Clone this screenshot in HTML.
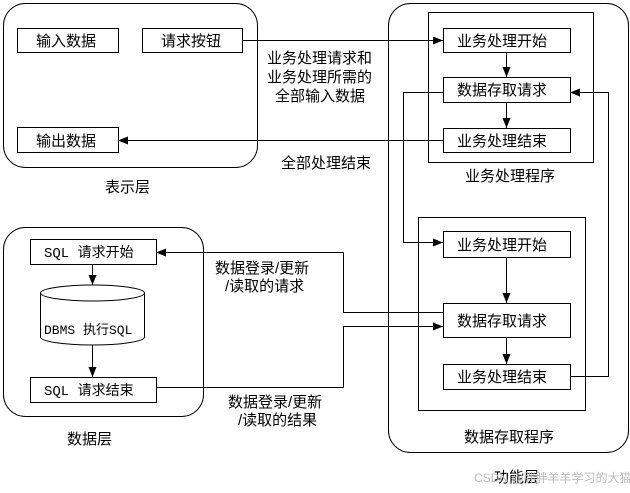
<!DOCTYPE html>
<html><head><meta charset="utf-8"><style>
html,body{margin:0;padding:0;background:#fff;}
svg text{font-family:"Liberation Sans","WenQuanYi Zen Hei","Noto Sans CJK SC",sans-serif;font-size:15px;fill:#000;}
.m{font-family:"Liberation Mono","WenQuanYi Zen Hei","Noto Sans CJK SC",monospace;}
</style></head><body>
<svg width="630" height="488" viewBox="0 0 630 488" xmlns="http://www.w3.org/2000/svg">
<defs>
<marker id="a" markerWidth="10" markerHeight="8" refX="10" refY="4" orient="auto" markerUnits="userSpaceOnUse">
<path d="M0,0 L10,4 L0,8 Z" fill="#000"/></marker>
</defs>
<g fill="none" stroke="#000" stroke-width="1">
<!-- presentation layer -->
<rect x="3.5" y="3.5" width="254" height="164" rx="22"/>
<rect x="17.5" y="28.5" width="101" height="24"/>
<rect x="142.5" y="28.5" width="100" height="24"/>
<rect x="17.5" y="127.5" width="101" height="25"/>
<!-- function layer -->
<rect x="388.5" y="3.5" width="240" height="449" rx="22"/>
<rect x="428.5" y="12.5" width="165" height="150"/>
<rect x="443.5" y="28.5" width="127" height="24"/>
<rect x="443.5" y="77.5" width="127" height="25"/>
<rect x="443.5" y="128.5" width="127" height="24"/>
<rect x="418.5" y="217.5" width="167" height="193"/>
<rect x="443.5" y="231.5" width="127" height="26"/>
<rect x="443.5" y="303.5" width="127" height="34"/>
<rect x="443.5" y="364.5" width="127" height="25"/>
<!-- data layer -->
<rect x="3.5" y="227.5" width="200" height="189" rx="22"/>
<rect x="30.5" y="239.5" width="126" height="25"/>
<rect x="30.5" y="377.5" width="126" height="25"/>
<path d="M40.5,293 L40.5,337 A52,8 0 0 0 144.5,337 L144.5,293"/>
<ellipse cx="92.5" cy="293" rx="52" ry="8"/>
<!-- connectors -->
<path d="M242.5,40.5 H443" marker-end="url(#a)"/>
<path d="M443.5,140.5 H118" marker-end="url(#a)"/>
<path d="M506.5,52.5 V77" marker-end="url(#a)"/>
<path d="M506.5,102.5 V128" marker-end="url(#a)"/>
<path d="M443.5,92.5 H403.5 V242.5 H443" marker-end="url(#a)"/>
<path d="M570.5,376.5 H608.5 V92.5 H570" marker-end="url(#a)"/>
<path d="M506.5,257.5 V303" marker-end="url(#a)"/>
<path d="M506.5,337.5 V364" marker-end="url(#a)"/>
<path d="M443.5,312.5 H343.5 V252.5 H156" marker-end="url(#a)"/>
<path d="M156.5,387.5 H343.5 V326.5 H443" marker-end="url(#a)"/>
<path d="M92.5,264.5 V285" marker-end="url(#a)"/>
<path d="M92.5,345.5 V377" marker-end="url(#a)"/>
</g>
<text x="36" y="46">输入数据</text>
<text x="161" y="46">请求按钮</text>
<text x="36" y="146">输出数据</text>
<text x="105" y="192">表示层</text>
<text x="267" y="63">业务处理请求和</text>
<text x="267" y="82">业务处理所需的</text>
<text x="275" y="101">全部输入数据</text>
<text x="281" y="168">全部处理结束</text>
<text x="457" y="46">业务处理开始</text>
<text x="457" y="95">数据存取请求</text>
<text x="457" y="146">业务处理结束</text>
<text x="465" y="181">业务处理程序</text>
<text x="457" y="250">业务处理开始</text>
<text x="457" y="326">数据存取请求</text>
<text x="457" y="382">业务处理结束</text>
<text x="464" y="442">数据存取程序</text>
<text x="494" y="482">功能层</text>
<text x="474" y="482" style="fill:#bbb;font-size:12px">CSDN @胖胖羊羊学习的大猫</text>
<text class="m" x="44" y="257" style="font-size:14px">SQL 请求开始</text>
<text class="m" x="44" y="395" style="font-size:14px">SQL 请求结束</text>
<text class="m" x="44" y="334" style="font-size:13px">DBMS 执行SQL</text>
<text x="67" y="444">数据层</text>
<text x="215" y="273">数据登录/更新</text>
<text x="225" y="291">/读取的请求</text>
<text x="228" y="407">数据登录/更新</text>
<text x="238" y="425">/读取的结果</text>
</svg>
</body></html>
